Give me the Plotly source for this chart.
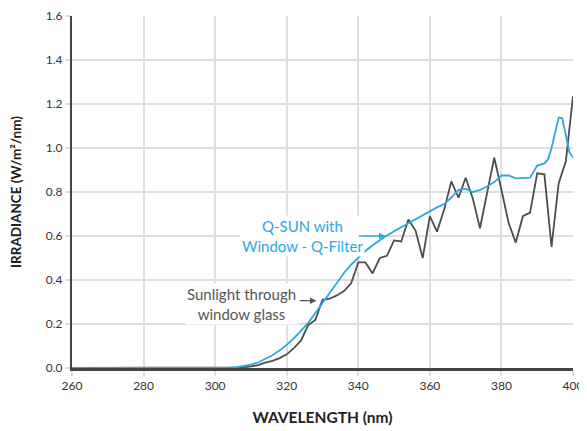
import plotly.graph_objects as go

# Sunlight through window glass
sun_nm = [260, 300, 302, 304, 306, 308, 310, 312, 314, 316, 318, 320, 322, 324, 326, 328,
          330, 332, 334, 336, 338, 340, 342, 344, 346, 348, 350, 352, 354, 356, 358,
          360, 362, 364, 366, 368, 370, 372, 374, 376, 378, 380, 382, 384, 386, 388,
          390, 392, 394, 396, 398, 400]
sun_val = [0, 0, 0, 0, 0.001, 0.003, 0.007, 0.013, 0.024, 0.032, 0.045, 0.062, 0.09, 0.125, 0.195, 0.218,
           0.31, 0.315, 0.33, 0.35, 0.385, 0.48, 0.48, 0.43, 0.50, 0.51, 0.58, 0.575, 0.675, 0.625, 0.50,
           0.69, 0.62, 0.72, 0.848, 0.774, 0.865, 0.771, 0.635, 0.79, 0.956, 0.81, 0.66, 0.57, 0.69, 0.706,
           0.885, 0.88, 0.551, 0.84, 0.94, 1.235]

# Q-SUN with Window - Q-Filter
qsun_nm = [260, 300, 302, 304, 306, 308, 310, 312, 314, 316, 318, 320, 322, 324, 326, 328,
           330, 332, 334, 336, 338, 340, 342, 344, 346, 348, 350, 352, 354, 356, 358,
           360, 362, 364, 366, 368, 370, 372, 374, 376, 378, 380, 382, 384, 386, 388,
           390, 392, 393, 394, 395, 396, 397, 398, 399, 400]
qsun_val = [0, 0, 0.001, 0.002, 0.004, 0.008, 0.015, 0.025, 0.04, 0.058, 0.08, 0.105, 0.135, 0.168, 0.205, 0.25,
            0.295, 0.345, 0.39, 0.432, 0.47, 0.503, 0.532, 0.558, 0.582, 0.602, 0.622, 0.64, 0.658, 0.675, 0.695,
            0.713, 0.73, 0.745, 0.775, 0.81, 0.815, 0.80, 0.81, 0.825, 0.845, 0.875, 0.875, 0.862, 0.862, 0.865,
            0.92, 0.93, 0.948, 1.0, 1.07, 1.138, 1.135, 1.05, 0.98, 0.957]

x_ticks = [260, 280, 300, 320, 340, 360, 380, 400]
y_ticks = [0.0, 0.2, 0.4, 0.6, 0.8, 1.0, 1.2, 1.4, 1.6]

BLUE = "#29a9e1"
DARK = "#4d4d4d"
FONT = "Lato"

fig = go.Figure()
fig.add_trace(go.Scatter(x=sun_nm, y=sun_val, mode="lines",
                         line=dict(color=DARK, width=1.8), hoverinfo="skip"))
fig.add_trace(go.Scatter(x=qsun_nm, y=qsun_val, mode="lines",
                         line=dict(color=BLUE, width=1.8), hoverinfo="skip"))

# page body has an 8px margin, so the figure is sized/margined to land the plot area correctly
fig.update_layout(
    width=579, height=423,
    margin=dict(l=64, r=14, t=8, b=63),
    paper_bgcolor="white", plot_bgcolor="white",
    showlegend=False,
    font=dict(family=FONT, color="#333", size=12),
    xaxis=dict(range=[260, 400], tickvals=x_ticks, ticktext=[str(v) for v in x_ticks],
               showgrid=True, gridcolor="#dedede", gridwidth=1.5,
               showline=True, linecolor="#444", linewidth=2.5,
               ticks="outside", ticklen=5, tickcolor="#dedede", tickwidth=1.5,
               zeroline=False, automargin=False,
               title=dict(text="<b>WAVELENGTH (nm)</b>", font=dict(size=15.5, color="#222"), standoff=20),
               tickfont=dict(size=12, color="#333")),
    yaxis=dict(range=[0, 1.6], tickvals=y_ticks, ticktext=[f"{v:.1f}" for v in y_ticks],
               showgrid=True, gridcolor="#dedede", gridwidth=1.5,
               showline=True, linecolor="#444", linewidth=2,
               ticks="outside", ticklen=5, tickcolor="#dedede", tickwidth=1.5,
               zeroline=False, automargin=False,
               title=dict(text="<b>IRRADIANCE (W/m²/nm)</b>", font=dict(size=13.5, color="#222"), standoff=22),
               tickfont=dict(size=12, color="#333")),
)

# text labels
fig.add_annotation(x=307.3, y=0.289, xref="x", yref="y", showarrow=False,
                   text="Sunlight through<br>window glass", align="center",
                   font=dict(family=FONT, size=15, color="#555"), bgcolor="white")
fig.add_annotation(x=324.3, y=0.598, xref="x", yref="y", showarrow=False,
                   text="Q-SUN with<br>Window - Q-Filter", align="center",
                   font=dict(family=FONT, size=15, color=BLUE), bgcolor="white")
# arrows
fig.add_annotation(x=328.3, y=0.306, ax=323.2, ay=0.306, xref="x", yref="y", axref="x", ayref="y",
                   text="", showarrow=True, arrowhead=2, arrowsize=1, arrowwidth=1.3, arrowcolor="#555")
fig.add_annotation(x=347.6, y=0.6, ax=339.7, ay=0.6, xref="x", yref="y", axref="x", ayref="y",
                   text="", showarrow=True, arrowhead=2, arrowsize=1, arrowwidth=1.3, arrowcolor=BLUE)

fig.write_html("out.html")
